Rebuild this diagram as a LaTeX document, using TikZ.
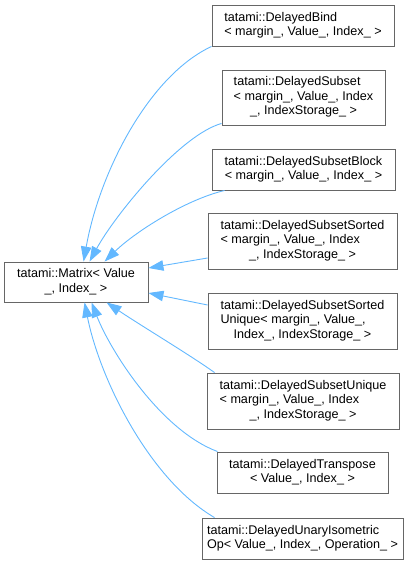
\documentclass[tikz,border=0pt]{standalone}
\usepackage{fontspec}
\setmainfont{Liberation Sans}
\usetikzlibrary{arrows.meta,calc}
\definecolor{edgeblue}{HTML}{63B8FF}
\definecolor{boxgray}{HTML}{666666}
\newcommand{\lines}[2]{\begin{tabular}{@{}l@{}}#1\\\multicolumn{1}{@{}c@{}}{#2}\end{tabular}}
\newcommand{\linesthree}[3]{\begin{tabular}{@{}l@{}}#1\\#2\\\multicolumn{1}{@{}c@{}}{#3}\end{tabular}}
\begin{document}
\begin{tikzpicture}[x=1pt,y=-1pt,
  cls/.style={draw=boxgray, fill=white, line width=0.9pt, inner sep=0pt,
    font=\fontsize{12.6}{14.5}\selectfont, anchor=center},
  inh/.style={draw=edgeblue, line width=0.9pt, -{Triangle[length=15pt,width=10.5pt]}, fill=none}]
\useasboundingbox (0,0) rectangle (416,565);
\renewcommand{\arraystretch}{1}
\node[cls, minimum width=144pt, minimum height=40pt] (matrix) at (76,282)
  {\lines{tatami::Matrix< Value}{\_, Index\_ >}};
\node[cls, minimum width=182pt, minimum height=41pt] (bind) at (303,25.5)
  {\lines{tatami::DelayedBind}{< margin\_, Value\_, Index\_ >}};
\node[cls, minimum width=163pt, minimum height=55pt] (subset) at (303.5,97.5)
  {\linesthree{tatami::DelayedSubset}{< margin\_, Value\_, Index}{\_, IndexStorage\_ >}};
\node[cls, minimum width=183pt, minimum height=41pt] (block) at (303.5,169.5)
  {\lines{tatami::DelayedSubsetBlock}{< margin\_, Value\_, Index\_ >}};
\node[cls, minimum width=189pt, minimum height=56pt] (sorted) at (302.5,241)
  {\linesthree{tatami::DelayedSubsetSorted}{< margin\_, Value\_, Index}{\_, IndexStorage\_ >}};
\node[cls, minimum width=189pt, minimum height=56pt] (sortedunique) at (302.5,321)
  {\linesthree{tatami::DelayedSubsetSorted}{Unique< margin\_, Value\_,}{Index\_, IndexStorage\_ >}};
\node[cls, minimum width=192pt, minimum height=56pt] (unique) at (303,401)
  {\linesthree{tatami::DelayedSubsetUnique}{< margin\_, Value\_, Index}{\_, IndexStorage\_ >}};
\node[cls, minimum width=171pt, minimum height=41pt] (transpose) at (302.5,472.5)
  {\lines{tatami::DelayedTranspose}{< Value\_, Index\_ >}};
\node[cls, minimum width=201pt, minimum height=41pt] (unary) at (302.5,538.5)
  {\lines{tatami::DelayedUnaryIsometric}{Op< Value\_, Index\_, Operation\_ >}};
% edges
\draw[inh] (bind.south west) .. controls (150,75) and (100,170) .. ($(matrix.north west)+(80,0)$);
\draw[inh] ($(subset.south west)+(0,-2)$) .. controls (180,135) and (115,215) .. ($(matrix.north west)+(86,0)$);
\draw[inh] ($(block.south west)+(13,0)$) .. controls (185,200) and (135,232) .. ($(matrix.north west)+(101,0)$);
\draw[inh] ($(sorted.west)+(0,17)$) -- ($(matrix.east)+(0,-14)$);
\draw[inh] ($(sortedunique.west)+(0,-16)$) -- ($(matrix.east)+(0,11)$);
\draw[inh] ($(unique.north west)+(8,0)$) .. controls (190,355) and (140,325) .. ($(matrix.south west)+(103,0)$);
\draw[inh] ($(transpose.north west)+(1,0)$) .. controls (160,430) and (110,350) .. ($(matrix.south west)+(88,0)$);
\draw[inh] ($(unary.north west)+(13,0)$) .. controls (150,480) and (100,380) .. ($(matrix.south west)+(81,0)$);
\end{tikzpicture}
\end{document}
